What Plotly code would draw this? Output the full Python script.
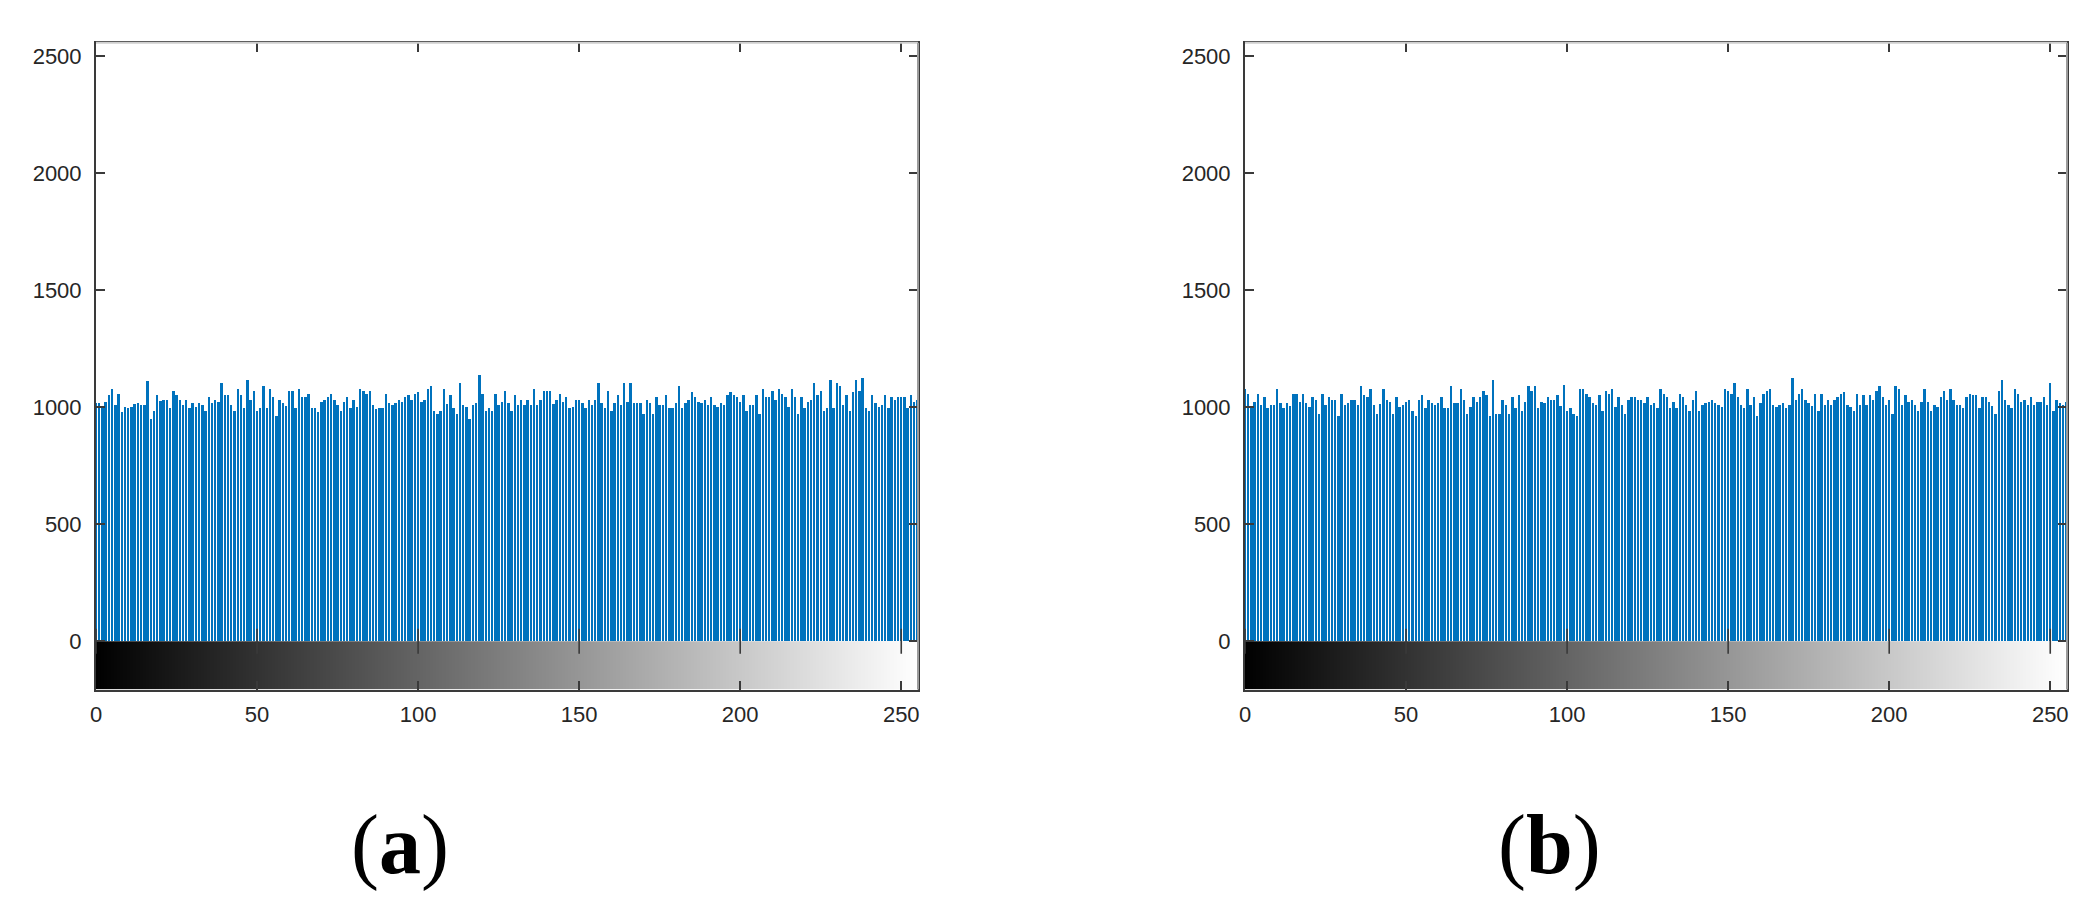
import plotly.graph_objects as go

gray_levels = list(range(256))

counts_a = [
    1017, 1017, 1003, 1020, 1053, 1079, 1007, 1056, 981, 1000,
    995, 1000, 1015, 1017, 1010, 1010, 1113, 950, 984, 1053,
    1025, 1031, 1031, 995, 1067, 1053, 1031, 1007, 1031, 995,
    1017, 1000, 1017, 1007, 985, 1043, 1017, 1031, 1020, 1102,
    1053, 1053, 1010, 984, 1079, 1053, 998, 1115, 1030, 1067,
    984, 995, 1089, 995, 1079, 1043, 960, 1031, 1017, 1005,
    1067, 1067, 995, 1079, 1043, 1043, 1056, 995, 995, 981,
    1020, 1031, 1043, 1056, 1031, 1007, 984, 1020, 1043, 995,
    1031, 1000, 1079, 1067, 1056, 1067, 1007, 990, 995, 995,
    1056, 1017, 1010, 1017, 1031, 1020, 1043, 1053, 1030, 1056,
    1065, 1020, 1031, 1079, 1089, 984, 971, 984, 1079, 1015,
    1053, 995, 971, 1102, 1007, 1000, 950, 1007, 1017, 1136,
    1056, 984, 995, 984, 1056, 1007, 1020, 1067, 1017, 984,
    1053, 1007, 1031, 1007, 1031, 1007, 1079, 1010, 1031, 1067,
    1067, 1067, 1015, 1031, 1056, 1020, 1043, 995, 1000, 1031,
    1031, 1017, 995, 1031, 1010, 1031, 1103, 1017, 995, 1067,
    984, 1017, 1053, 1007, 1102, 1020, 1102, 1017, 1017, 1017,
    971, 1031, 1017, 971, 1043, 1007, 1010, 1053, 995, 995,
    1017, 1089, 995, 1017, 1031, 1065, 1043, 1020, 1017, 1031,
    1007, 1043, 1007, 1000, 1017, 1007, 1053, 1065, 1053, 1043,
    1020, 1053, 984, 1007, 1010, 1053, 971, 1079, 1043, 1043,
    1067, 1031, 1079, 1056, 1043, 1000, 1079, 1043, 971, 1043,
    995, 1020, 1031, 1102, 1053, 1067, 984, 995, 1115, 995,
    1102, 1089, 1010, 1053, 984, 1065, 1115, 1067, 1125, 995,
    984, 1053, 1017, 1000, 1007, 1053, 995, 1043, 1031, 1043,
    1043, 1043, 995, 1053, 1020, 1030,
]

counts_b = [
    1079, 1056, 1003, 1020, 1056, 1007, 1043, 995, 1007, 1010,
    1079, 1017, 995, 1017, 1003, 1056, 1056, 1020, 1056, 1017,
    1000, 1043, 1031, 971, 1056, 1007, 1043, 1031, 1031, 960,
    1056, 1010, 1017, 1031, 1031, 1007, 1089, 1053, 1043, 1079,
    1007, 971, 1015, 1079, 1031, 1020, 971, 1043, 1000, 1007,
    1020, 1031, 984, 960, 1031, 1053, 995, 1031, 1017, 1010,
    1017, 1043, 995, 995, 1089, 1017, 1017, 1079, 1031, 971,
    1000, 1043, 1020, 1043, 1067, 1053, 960, 1115, 971, 971,
    1031, 1010, 971, 1043, 995, 1053, 984, 1020, 1089, 1067,
    1089, 995, 1020, 1017, 1043, 1031, 1031, 1053, 1005, 1096,
    984, 995, 971, 960, 1079, 1079, 1056, 1043, 1017, 1010,
    1053, 984, 1067, 1056, 1079, 1000, 1043, 1007, 971, 1031,
    1043, 1043, 1031, 1031, 1017, 1043, 1010, 1017, 995, 1079,
    1056, 1043, 995, 1020, 995, 1056, 1043, 1010, 984, 1031,
    1067, 984, 1007, 1017, 1020, 1031, 1017, 1007, 1000, 1079,
    1067, 1056, 1102, 1043, 1010, 995, 1079, 1007, 1043, 960,
    1017, 1056, 1067, 1079, 1007, 1000, 1010, 1017, 995, 1007,
    1125, 1031, 1056, 1079, 1031, 1017, 1005, 1056, 984, 1056,
    1007, 1031, 1010, 1031, 1043, 1056, 1065, 1007, 1000, 984,
    1056, 1007, 1053, 1010, 1053, 1031, 1067, 1089, 1043, 1007,
    1031, 971, 1089, 1079, 1010, 1053, 1020, 1031, 1007, 984,
    1020, 1079, 1020, 984, 1007, 1000, 1043, 1067, 1031, 1079,
    1031, 1010, 1007, 995, 1043, 1056, 1053, 1053, 995, 1043,
    1043, 1020, 1005, 971, 1067, 1115, 1031, 1007, 995, 1079,
    1056, 1020, 1031, 1010, 1043, 1007, 1020, 1020, 1043, 1010,
    1102, 984, 1031, 1017, 1010, 1020,
]

x_ticks = [0, 50, 100, 150, 200, 250]
y_ticks = [0, 500, 1000, 1500, 2000, 2500]
panel_labels = ["(<b>a</b>)", "(<b>b</b>)"]

assert len(counts_a) == 256 and len(counts_b) == 256

# page body has an 8px default margin; the figure is sized/positioned to compensate
OFF = 8
W, H = 2088 - 2 * OFF, 902 - 2 * OFF

def px_x(p):
    return (p - OFF) / W

def px_y(p):
    return 1 - (p - OFF) / H

bar_color = "#0072BD"
axis_col = "#3a3a3a"
tick_font = dict(family="Liberation Sans, Arial, sans-serif", size=22, color="#262626")

x_domains = [(px_x(96), px_x(918)), (px_x(1245), px_x(2067))]
y_domain = (px_y(689.5), px_y(42.7))
y_range = [-206, 2556]
x_range = [0, 255.2]

fig = go.Figure()

for i, counts in enumerate([counts_a, counts_b]):
    xa = "x" if i == 0 else "x2"
    ya = "y" if i == 0 else "y2"
    fig.add_trace(go.Heatmap(
        z=[gray_levels], x0=0, dx=1, y0=y_range[0] / 2, dy=-y_range[0],
        colorscale=[[0, "#000000"], [1, "#ffffff"]], zmin=0, zmax=255,
        showscale=False, xaxis=xa, yaxis=ya, hoverinfo="skip",
    ))
    fig.add_trace(go.Bar(
        x=gray_levels, y=counts, width=0.75,
        marker=dict(color=bar_color, line=dict(width=0)),
        xaxis=xa, yaxis=ya, showlegend=False,
    ))
    # tick marks on the colorbar's top edge (y = 0)
    fig.add_trace(go.Scatter(
        x=x_ticks, y=[0] * len(x_ticks), mode="markers",
        marker=dict(symbol="line-ns", size=18, line=dict(width=1.6, color=axis_col)),
        xaxis=xa, yaxis=ya, showlegend=False, hoverinfo="skip",
    ))

for i in range(2):
    sfx = "" if i == 0 else "2"
    fig.layout["xaxis" + sfx] = dict(
        domain=list(x_domains[i]), range=x_range, anchor="y" + sfx, automargin=False,
        tickvals=x_ticks, ticks="inside", ticklen=9, tickwidth=1.6, tickcolor=axis_col,
        showline=True, linecolor=axis_col, linewidth=2, mirror="ticks",
        showgrid=False, zeroline=False, tickfont=tick_font, ticklabelstandoff=4,
    )
    fig.layout["yaxis" + sfx] = dict(
        domain=list(y_domain), range=y_range, anchor="x" + sfx, automargin=False,
        tickvals=y_ticks, ticks="inside", ticklen=9, tickwidth=1.6, tickcolor=axis_col,
        showline=True, linecolor=axis_col, linewidth=2, mirror="ticks",
        showgrid=False, zeroline=False, tickfont=tick_font, ticklabelstandoff=8,
    )

shapes = []
for i in range(2):
    sfx = "" if i == 0 else "2"
    # light top border and grey right border
    shapes.append(dict(type="line", xref="x%s domain" % sfx, yref="y%s domain" % sfx,
                       x0=0, x1=1, y0=1, y1=1, line=dict(color="#cfcfcf", width=2)))
    shapes.append(dict(type="line", xref="x%s domain" % sfx, yref="y%s domain" % sfx,
                       x0=1, x1=1, y0=0, y1=1, line=dict(color="#9c9c9c", width=2)))

annotations = []
label_x = [px_x(400), px_x(1549)]
for i in range(2):
    annotations.append(dict(
        text=panel_labels[i], x=label_x[i], y=px_y(845), xref="paper", yref="paper",
        showarrow=False, xanchor="center", yanchor="middle",
        font=dict(family="Liberation Serif, Times New Roman, serif", size=84, color="#000000"),
    ))

fig.update_layout(
    width=W, height=H, margin=dict(l=0, r=0, t=0, b=0, autoexpand=False),
    paper_bgcolor="white", plot_bgcolor="white",
    showlegend=False, bargap=0, shapes=shapes, annotations=annotations,
)

fig.write_html("out.html", config={"staticPlot": True})
